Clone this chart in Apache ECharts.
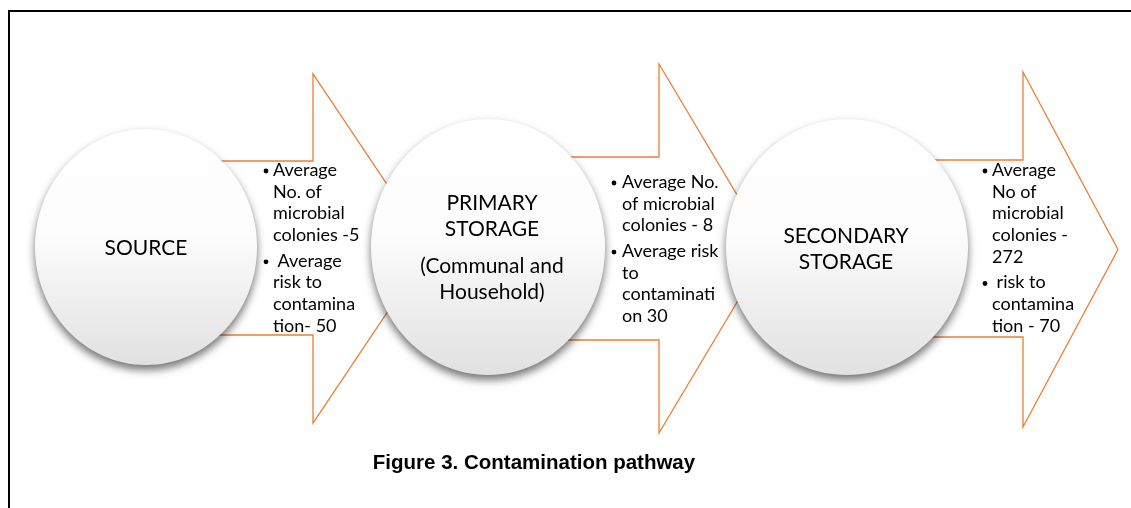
<!DOCTYPE html>
<html>
<head>
<meta charset="utf-8">
<title>Contamination pathway</title>
<script src="https://cdn.jsdelivr.net/npm/echarts@6/dist/echarts.min.js"></script>
<style>
html, body { margin: 0; padding: 0; background: #fff; }
#chart { width: 1131px; height: 508px; }
</style>
</head>
<body>
<div id="chart"></div>
<script>
// stages of the pathway
var stages = ['SOURCE', 'PRIMARY\nSTORAGE', 'SECONDARY\nSTORAGE'];
var stageNotes = ['', '(Communal and\nHousehold)', ''];

// values written on each arrow
var colonies = [5, 8, 272];
var risk = [50, 30, 70];
var colonyPrefix = ['Average\nNo. of\nmicrobial\ncolonies -', 'Average No.\nof microbial\ncolonies - ', 'Average\nNo of\nmicrobial\ncolonies -\n'];
var riskPrefix = [' Average\nrisk to\ncontamina\ntion- ', 'Average risk\nto\ncontaminati\non ', ' risk to\ncontamina\ntion - '];
var caption = 'Figure 3. Contamination pathway';

// layout (px on a 1131 x 508 canvas)
var circleBox = [ // cx, cy, rx, ry
  [146, 247, 111, 118],
  [488, 247, 117, 128],
  [847, 247, 121, 128]
];
var arrowBox = [ // shaft start x, shaft top, shaft bottom, head x, head top, head bottom, tip x
  [146, 161, 335, 313, 74, 423, 430],
  [488, 157, 340, 659, 64, 433, 769],
  [847, 160, 337, 1023, 72, 427, 1118]
];
var notePos = [ // bullet x, text x, first line centre y
  [266, 273, 170],
  [614, 622, 182],
  [985, 992, 170]
];
var labelPos = [ // x, centre of main label, centre of note
  [146, 248, 0],
  [492, 216, 279],
  [846, 249, 0]
];

var ORANGE = '#ED7D31';
var TEXT_FONT = 'Lato, "Open Sans", sans-serif';
var LH = 21.7;

function renderArrow(params, api) {
  var i = params.dataIndex;
  var a = arrowBox[i];
  var mid = (a[4] + a[5]) / 2;
  var pts = [
    [a[0], a[1]], [a[3], a[1]], [a[3], a[4]], [a[6], mid],
    [a[3], a[5]], [a[3], a[2]], [a[0], a[2]]
  ].map(function (p) { return api.coord(p); });

  var p1 = colonyPrefix[i] + colonies[i];
  var p2 = riskPrefix[i] + risk[i];
  var n1 = p1.split('\n').length;
  var y1 = notePos[i][2];
  var y2 = y1 + n1 * LH + 4;
  var bx = api.coord([notePos[i][0], 0])[0];
  var tx = api.coord([notePos[i][1], 0])[0];

  function para(text, yc) {
    return {
      type: 'text',
      style: {
        text: text, x: tx, y: api.coord([0, yc])[1] - LH / 2,
        fill: '#000', fontSize: 18, fontFamily: TEXT_FONT,
        lineHeight: LH, verticalAlign: 'top', align: 'left'
      }
    };
  }
  // bullet dot
  function bullet(yc) {
    var p = api.coord([notePos[i][0], yc]);
    return {
      type: 'circle',
      shape: { cx: p[0], cy: p[1] + 1, r: 2.4 },
      style: { fill: '#000' }
    };
  }

  return {
    type: 'group',
    children: [
      {
        type: 'polygon',
        shape: { points: pts },
        style: { fill: '#fff', stroke: ORANGE, lineWidth: 1.3 }
      },
      bullet(y1), para(p1, y1),
      bullet(y2), para(p2, y2)
    ]
  };
}

function renderCircle(params, api) {
  var i = params.dataIndex;
  var c = circleBox[i];
  var ctr = api.coord([c[0], c[1]]);
  var r = api.size([c[2], c[3]]);
  var lx = api.coord([labelPos[i][0], 0])[0];
  var children = [
    {
      type: 'ellipse',
      shape: { cx: ctr[0], cy: ctr[1], rx: r[0], ry: r[1] },
      style: {
        fill: {
          type: 'linear', x: 0, y: 0, x2: 0, y2: 1,
          colorStops: [
            { offset: 0, color: '#ffffff' },
            { offset: 0.45, color: '#fcfcfc' },
            { offset: 1, color: '#e1e1e1' }
          ]
        },
        shadowBlur: 9,
        shadowOffsetY: 5,
        shadowColor: 'rgba(0,0,0,0.55)'
      }
    },
    {
      type: 'text',
      style: {
        text: stages[i], x: lx, y: api.coord([0, labelPos[i][1]])[1],
        fill: '#000', fontSize: 21, fontFamily: TEXT_FONT,
        lineHeight: 25.5, align: 'center', verticalAlign: 'middle'
      }
    }
  ];
  if (stageNotes[i]) {
    children.push({
      type: 'text',
      style: {
        text: stageNotes[i], x: lx, y: api.coord([0, labelPos[i][2]])[1],
        fill: '#000', fontSize: 21, fontFamily: TEXT_FONT,
        lineHeight: 25.5, align: 'center', verticalAlign: 'middle'
      }
    });
  }
  return { type: 'group', children: children };
}

var chart = echarts.init(document.getElementById('chart'));
var option = {
  animation: false,
  backgroundColor: '#fff',
  grid: { left: 0, right: 0, top: 0, bottom: 0 },
  xAxis: { type: 'value', min: 0, max: 1131, show: false },
  yAxis: { type: 'value', min: 0, max: 508, inverse: true, show: false },
  graphic: [
    {
      type: 'polyline',
      shape: { points: [[9, 508], [9, 11], [1131, 11]] },
      style: { stroke: '#000', lineWidth: 2, fill: null }
    },
    {
      type: 'text',
      x: 534, y: 463,
      style: {
        text: caption, fill: '#000',
        font: 'bold 20.5px "Liberation Sans", Arial, sans-serif',
        align: 'center', verticalAlign: 'middle'
      }
    }
  ],
  series: [
    {
      type: 'custom',
      name: 'arrows',
      clip: false,
      silent: true,
      renderItem: renderArrow,
      data: stages.map(function (s, i) { return [i, 0]; })
    },
    {
      type: 'custom',
      name: 'stages',
      clip: false,
      silent: true,
      renderItem: renderCircle,
      data: stages.map(function (s, i) { return [i, 0]; })
    }
  ]
};
chart.setOption(option);
</script>
</body>
</html>
